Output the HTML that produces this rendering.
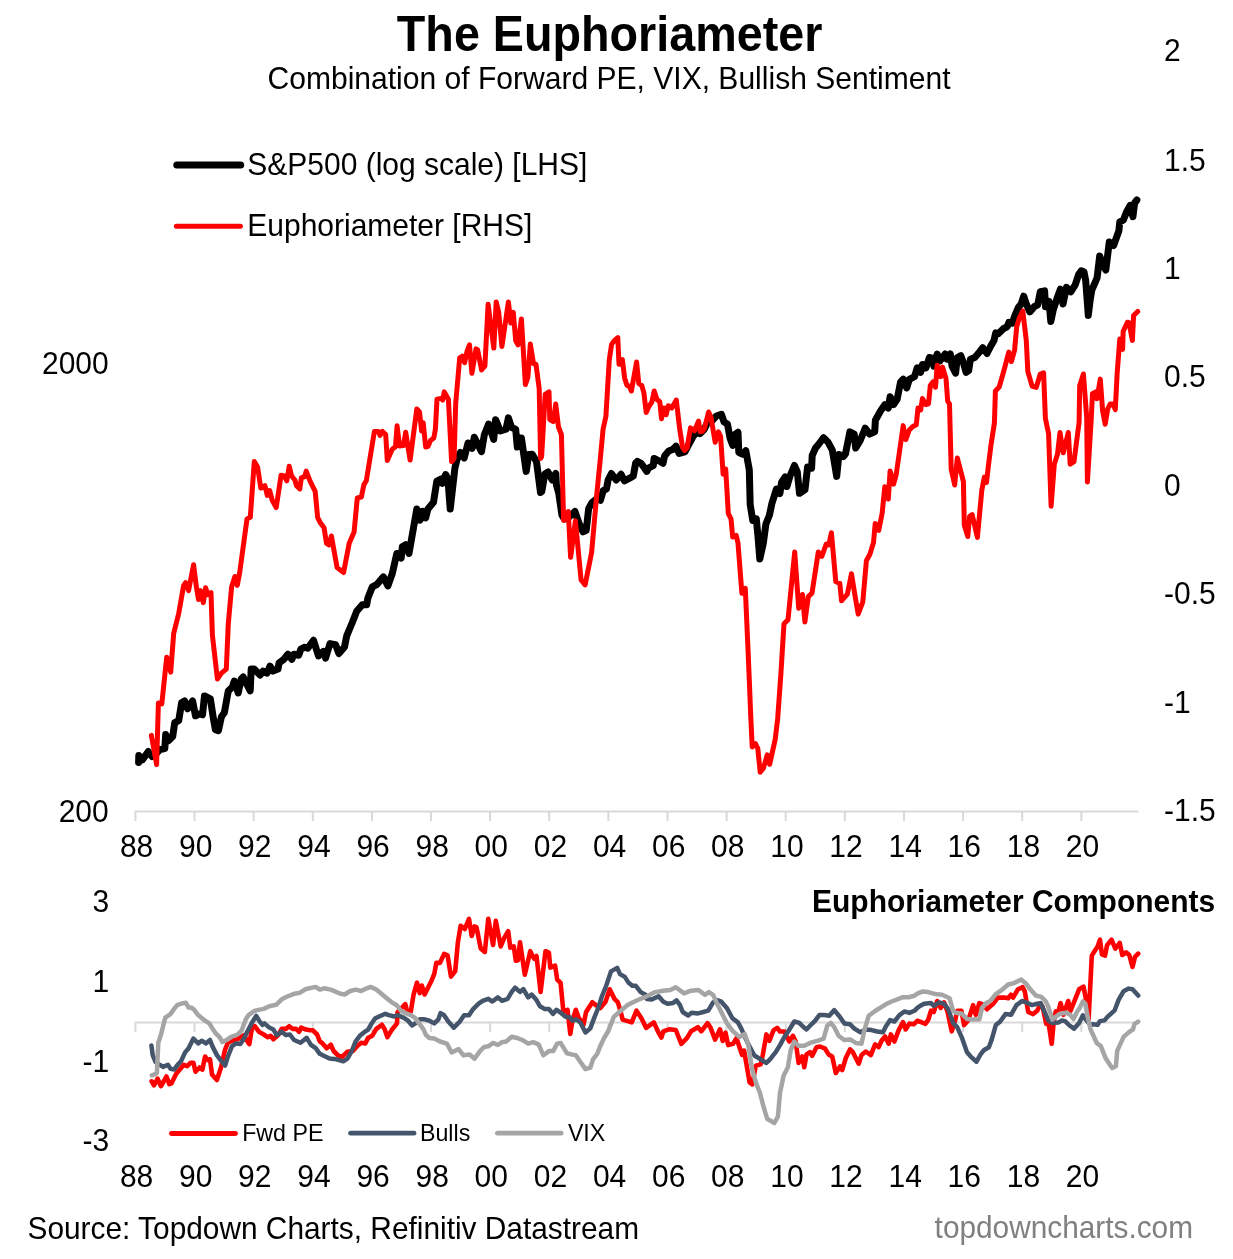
<!DOCTYPE html>
<html><head><meta charset="utf-8"><title>The Euphoriameter</title>
<style>
html,body{margin:0;padding:0;background:#fff;}
body{width:1233px;height:1259px;overflow:hidden;}
svg{display:block;font-family:'Liberation Sans', Arial, sans-serif;fill:#000;}
</style></head><body>
<svg width="1233" height="1259" viewBox="0 0 1233 1259">
<rect width="1233" height="1259" fill="#fff"/>
<text transform="translate(609.6 50.9) scale(1 1.055)" font-size="46.7" text-anchor="middle" font-weight="bold">The Euphoriameter</text>
<text transform="translate(609.0 88.5) scale(1 1.03)" font-size="30.05" text-anchor="middle">Combination of Forward PE, VIX, Bullish Sentiment</text>
<g stroke="#d9d9d9" stroke-width="2" fill="none">
<path d="M134.9 811.4 H1138.4"/>
<path d="M135.4 811.4 V821"/>
<path d="M194.5 811.4 V821"/>
<path d="M253.6 811.4 V821"/>
<path d="M312.8 811.4 V821"/>
<path d="M371.9 811.4 V821"/>
<path d="M431.0 811.4 V821"/>
<path d="M490.1 811.4 V821"/>
<path d="M549.2 811.4 V821"/>
<path d="M608.4 811.4 V821"/>
<path d="M667.5 811.4 V821"/>
<path d="M726.6 811.4 V821"/>
<path d="M785.7 811.4 V821"/>
<path d="M844.8 811.4 V821"/>
<path d="M904.0 811.4 V821"/>
<path d="M963.1 811.4 V821"/>
<path d="M1022.2 811.4 V821"/>
<path d="M1081.3 811.4 V821"/>
</g>
<text transform="translate(136.6 856.6) scale(1 1.04)" font-size="30" text-anchor="middle">88</text>
<text transform="translate(195.7 856.6) scale(1 1.04)" font-size="30" text-anchor="middle">90</text>
<text transform="translate(254.8 856.6) scale(1 1.04)" font-size="30" text-anchor="middle">92</text>
<text transform="translate(314.0 856.6) scale(1 1.04)" font-size="30" text-anchor="middle">94</text>
<text transform="translate(373.1 856.6) scale(1 1.04)" font-size="30" text-anchor="middle">96</text>
<text transform="translate(432.2 856.6) scale(1 1.04)" font-size="30" text-anchor="middle">98</text>
<text transform="translate(491.3 856.6) scale(1 1.04)" font-size="30" text-anchor="middle">00</text>
<text transform="translate(550.4 856.6) scale(1 1.04)" font-size="30" text-anchor="middle">02</text>
<text transform="translate(609.6 856.6) scale(1 1.04)" font-size="30" text-anchor="middle">04</text>
<text transform="translate(668.7 856.6) scale(1 1.04)" font-size="30" text-anchor="middle">06</text>
<text transform="translate(727.8 856.6) scale(1 1.04)" font-size="30" text-anchor="middle">08</text>
<text transform="translate(786.9 856.6) scale(1 1.04)" font-size="30" text-anchor="middle">10</text>
<text transform="translate(846.0 856.6) scale(1 1.04)" font-size="30" text-anchor="middle">12</text>
<text transform="translate(905.2 856.6) scale(1 1.04)" font-size="30" text-anchor="middle">14</text>
<text transform="translate(964.3 856.6) scale(1 1.04)" font-size="30" text-anchor="middle">16</text>
<text transform="translate(1023.4 856.6) scale(1 1.04)" font-size="30" text-anchor="middle">18</text>
<text transform="translate(1082.5 856.6) scale(1 1.04)" font-size="30" text-anchor="middle">20</text>
<text transform="translate(108.7 374.4) scale(1 1.04)" font-size="30" text-anchor="end">2000</text>
<text transform="translate(108.7 821.5) scale(1 1.04)" font-size="30" text-anchor="end">200</text>
<text transform="translate(1164.0 61.4) scale(1 1.04)" font-size="30">2</text>
<text transform="translate(1164.0 170.7) scale(1 1.04)" font-size="30">1.5</text>
<text transform="translate(1164.0 278.5) scale(1 1.04)" font-size="30">1</text>
<text transform="translate(1164.0 387.0) scale(1 1.04)" font-size="30">0.5</text>
<text transform="translate(1164.0 495.8) scale(1 1.04)" font-size="30">0</text>
<text transform="translate(1164.0 603.5) scale(1 1.04)" font-size="30">-0.5</text>
<text transform="translate(1164.0 712.9) scale(1 1.04)" font-size="30">-1</text>
<text transform="translate(1164.0 821.3) scale(1 1.04)" font-size="30">-1.5</text>
<path d="M176.8 164.9 H240.7" stroke="#000" stroke-width="7" stroke-linecap="round"/>
<path d="M176.4 226.3 H240.4" stroke="#f00" stroke-width="5" stroke-linecap="round"/>
<text transform="translate(247.3 175.0) scale(1 1.03)" font-size="30">S&amp;P500 (log scale) [LHS]</text>
<text transform="translate(247.3 236.0) scale(1 1.03)" font-size="30">Euphoriameter [RHS]</text>
<polyline points="138.6,762.5 138.8,755.5 142.5,759.8 148.3,751.5 152.0,756.5 156.0,754.0 160.0,749.5 164.8,748.5 165.7,734.6 168.7,740.6 172.7,736.6 174.7,722.7 178.7,720.7 181.6,702.8 184.6,700.9 187.6,708.8 192.6,700.9 195.5,715.8 199.5,713.8 202.5,714.8 204.5,695.9 210.4,698.9 213.4,718.7 215.4,729.7 218.4,730.7 221.4,716.8 224.3,712.8 228.3,690.9 232.3,687.0 234.3,681.0 238.2,692.9 241.2,679.0 243.2,677.0 246.2,683.0 250.2,690.9 251.2,669.1 254.1,669.1 260.1,675.0 263.1,671.1 267.0,673.1 270.0,666.1 273.0,671.1 278.0,669.1 279.0,663.1 283.9,659.2 287.9,654.2 291.9,659.2 293.9,654.2 298.8,655.2 300.8,649.2 304.8,647.2 307.8,648.2 313.5,640.3 318.5,656.0 323.4,651.4 325.6,658.1 330.0,643.6 335.6,644.7 338.9,653.6 344.5,647.0 346.7,635.8 352.3,622.5 356.7,611.3 362.3,604.7 366.7,604.7 367.9,598.0 372.3,586.9 376.7,584.6 383.4,576.9 387.9,585.8 392.3,573.5 396.8,553.5 401.2,558.0 402.3,546.8 405.7,544.6 409.0,553.5 416.8,509.0 420.1,520.1 422.4,511.2 425.7,517.9 427.9,509.0 433.5,502.3 436.8,481.2 441.3,479.0 442.4,483.4 445.7,474.5 447.9,479.0 450.2,509.0 454.9,468.2 456.8,460.1 460.4,452.5 464.2,458.0 468.0,443.0 472.2,448.2 474.3,437.3 481.5,451.6 484.3,435.0 488.6,424.0 493.7,439.4 495.6,419.7 500.3,431.0 506.0,429.2 508.4,417.9 511.6,427.6 515.7,429.2 517.3,447.1 519.8,438.1 521.4,438.1 526.2,471.4 528.7,454.4 532.2,454.3 536.5,461.6 540.5,492.5 541.8,491.5 544.9,474.0 548.1,472.0 552.2,480.0 555.8,473.5 556.4,484.9 558.7,493.0 561.9,514.9 564.3,519.0 567.5,518.5 574.9,511.5 578.9,523.0 583.0,531.9 586.2,530.3 588.7,508.4 591.9,502.7 596.8,498.7 600.4,500.3 603.3,490.6 606.5,488.9 608.1,480.0 611.4,473.5 616.2,480.0 621.1,474.3 624.3,480.8 629.2,478.4 633.3,476.0 635.7,463.0 637.3,461.4 641.1,463.3 646.8,471.4 648.4,468.1 653.3,465.7 654.1,458.4 659.0,460.8 663.0,463.3 664.6,456.0 668.7,451.1 672.7,449.5 676.0,446.2 679.2,453.5 684.9,451.9 689.0,444.2 693.3,436.0 696.5,432.6 700.0,433.7 704.0,429.5 707.6,422.7 711.7,421.1 716.3,416.0 721.4,414.3 724.0,421.8 727.5,424.2 730.1,438.4 732.7,445.4 734.5,434.9 738.0,432.3 738.8,452.4 742.3,454.2 745.8,450.7 749.3,469.9 750.2,504.8 752.8,520.5 756.3,518.8 758.0,536.3 759.8,559.0 763.3,543.3 765.9,524.0 769.4,515.3 772.0,503.1 776.4,489.1 779.9,493.5 781.6,482.1 785.1,476.9 786.9,486.5 790.0,476.0 794.4,465.5 797.3,472.0 799.5,493.3 805.0,489.5 807.6,467.0 811.6,468.2 812.2,455.5 815.5,448.0 818.5,444.5 823.6,437.7 828.0,442.1 832.3,450.1 836.7,476.4 838.9,454.5 843.3,456.7 845.5,453.8 849.9,431.9 854.2,434.1 855.7,448.0 860.1,440.7 865.2,428.2 869.6,434.1 874.7,431.9 875.4,420.2 880.2,411.5 884.8,404.6 888.3,408.1 890.1,396.8 893.6,404.6 897.1,399.4 900.6,381.9 903.2,379.3 906.7,388.0 909.3,379.3 914.5,376.7 917.2,367.9 920.7,372.3 922.4,364.5 925.9,367.9 929.4,357.5 932.9,358.3 933.8,366.2 937.2,354.0 939.9,361.0 945.1,354.0 946.9,359.2 950.3,354.0 952.1,366.2 955.6,373.2 957.3,357.5 960.8,355.7 963.4,362.7 966.1,372.3 968.7,370.6 970.4,359.2 974.8,357.5 979.5,352.0 982.6,347.7 987.0,353.5 990.5,346.5 994.0,340.5 995.7,332.9 998.3,333.7 1003.6,328.5 1007.1,326.8 1008.8,322.4 1012.3,323.3 1014.9,315.4 1018.4,307.5 1021.1,304.0 1023.7,296.2 1026.3,304.0 1029.8,311.9 1034.2,306.7 1037.7,304.9 1040.3,291.8 1044.6,290.9 1045.5,306.7 1049.0,301.4 1050.8,321.5 1053.4,309.3 1056.9,298.8 1060.4,289.2 1063.0,304.0 1066.5,287.4 1070.8,291.8 1075.2,284.8 1078.7,274.3 1081.3,270.8 1083.9,271.7 1085.7,280.5 1088.3,315.4 1090.1,300.5 1091.8,290.1 1097.1,277.8 1099.7,256.0 1103.2,265.6 1105.8,270.0 1109.3,242.0 1113.6,245.5 1118.9,230.7 1119.8,221.9 1123.3,220.2 1126.8,211.4 1130.2,205.3 1132.9,216.7 1134.6,203.0 1136.9,200.0" fill="none" stroke="#000" stroke-width="7" stroke-linejoin="round" stroke-linecap="round"/>
<polyline points="151.4,735.4 156.6,764.6 158.4,703.0 161.8,703.9 166.7,657.2 170.7,672.1 173.7,633.3 178.7,613.5 183.6,585.7 185.6,582.7 188.6,590.6 193.6,564.8 196.5,587.7 198.5,599.6 200.5,590.6 203.3,602.6 205.6,587.8 207.8,594.6 211.0,592.6 212.4,635.3 217.4,679.0 221.4,673.1 226.3,669.1 228.3,623.4 231.6,587.1 234.9,576.5 237.3,585.4 239.7,572.5 247.0,518.9 250.3,517.3 254.3,461.4 257.6,467.0 260.8,488.1 264.9,485.7 267.3,495.4 269.7,490.6 272.2,500.3 276.2,507.6 281.1,475.2 284.3,476.0 286.8,480.8 289.2,466.2 291.6,476.0 294.9,480.0 296.5,485.7 299.8,488.9 301.4,477.6 304.6,476.8 306.2,471.1 310.3,481.6 315.2,491.4 317.6,517.3 320.0,522.2 324.1,527.9 326.5,543.3 329.0,544.9 331.4,536.0 337.1,567.6 343.6,572.5 349.2,543.3 354.1,531.9 357.3,497.9 361.4,497.0 363.8,484.9 366.3,480.8 374.4,431.4 378.4,431.4 380.0,435.4 382.5,431.4 385.7,434.6 387.3,460.6 392.2,449.2 395.5,446.8 397.1,425.7 399.5,446.0 403.4,445.6 405.7,432.3 410.1,460.1 416.8,408.9 419.5,412.0 421.6,430.9 423.2,422.7 425.7,447.1 428.1,446.3 430.5,440.6 433.8,438.1 435.4,429.2 437.0,399.2 441.1,398.4 442.7,400.0 444.3,391.9 448.4,399.2 451.6,461.7 454.1,458.4 455.7,403.3 459.7,357.9 462.2,356.2 464.6,362.7 467.0,351.4 469.5,344.9 471.9,373.3 476.0,348.9 477.6,349.7 481.6,370.0 484.9,366.0 488.1,304.3 493.8,348.1 496.2,301.9 498.7,312.4 501.9,346.5 508.4,301.9 510.8,323.0 513.3,312.4 515.7,340.8 518.1,344.9 521.4,318.9 525.4,384.6 527.9,377.3 530.3,344.1 533.5,363.5 536.0,364.3 539.2,388.7 540.6,458.4 541.6,456.8 545.2,394.4 549.0,391.9 549.8,419.5 553.3,421.5 555.7,404.1 558.5,427.0 561.4,434.5 563.6,520.5 568.3,511.5 570.6,557.3 575.4,520.8 581.1,580.0 585.1,584.9 591.6,552.5 596.5,497.3 600.2,460.0 603.1,429.0 605.9,416.5 609.3,359.7 611.6,344.4 614.4,340.4 617.8,337.6 619.0,364.3 620.7,364.3 622.4,359.7 624.6,377.9 626.9,385.3 629.2,385.9 631.4,391.0 636.6,362.0 638.8,383.6 641.7,385.3 643.9,392.7 646.2,412.5 649.0,406.3 651.9,401.8 654.2,391.0 657.0,399.5 659.8,401.8 661.5,418.8 663.8,408.0 666.1,414.8 668.3,405.7 671.8,408.0 676.3,400.0 679.7,429.0 682.5,447.0 684.5,450.5 687.1,447.7 690.5,427.9 692.8,429.5 694.5,430.7 698.5,421.1 700.2,431.7 702.4,431.3 704.6,428.0 708.6,412.0 711.0,417.5 715.2,442.3 718.4,431.8 720.6,436.3 723.1,474.2 725.7,469.0 728.3,513.6 731.0,518.8 732.7,537.1 736.2,535.4 738.0,543.3 741.9,593.3 745.3,588.3 748.1,651.5 749.3,680.0 750.7,715.0 752.2,746.9 755.4,743.7 757.8,748.4 760.2,772.3 763.4,768.3 767.3,754.8 769.7,764.3 775.3,738.9 777.7,718.2 780.9,673.8 784.0,623.7 788.0,619.7 789.6,603.8 794.7,552.0 798.7,608.3 802.5,594.5 804.9,622.0 808.3,596.6 812.0,593.2 818.3,552.0 821.8,556.4 826.2,544.1 828.8,545.0 831.4,532.8 835.8,581.7 839.8,583.3 841.5,600.8 847.4,594.1 851.5,573.8 855.0,595.7 858.2,614.1 862.8,601.9 866.4,560.7 870.0,554.0 873.5,542.6 875.2,523.4 878.7,530.4 882.2,512.9 884.8,486.7 888.3,499.0 890.1,471.0 893.6,484.1 896.2,474.5 903.2,425.6 905.8,439.6 909.3,430.0 912.8,426.5 916.3,424.7 918.0,408.1 920.7,409.9 922.4,398.5 925.9,404.6 928.5,403.8 930.3,385.4 932.9,381.9 935.5,387.2 937.2,365.3 940.7,376.7 942.5,367.1 946.0,378.4 947.7,401.1 949.5,403.8 951.2,469.3 954.7,485.0 957.3,457.9 963.4,481.5 964.3,525.2 967.8,536.5 969.6,516.4 972.2,514.7 977.4,537.4 981.8,490.2 984.4,477.1 986.5,482.5 988.2,467.5 991.0,445.0 994.4,423.0 995.4,391.0 999.2,387.0 1003.8,371.0 1008.8,352.1 1011.4,361.5 1014.6,350.0 1016.7,326.8 1019.3,318.0 1022.8,311.0 1026.3,340.7 1027.8,371.4 1032.1,386.1 1036.2,387.5 1040.3,374.0 1043.6,372.8 1045.4,418.5 1048.6,433.7 1051.1,506.2 1054.3,464.2 1057.5,454.1 1060.0,432.5 1063.2,452.8 1068.3,432.5 1070.2,464.2 1074.0,461.7 1079.1,422.3 1079.7,385.4 1083.4,374.0 1086.7,417.2 1087.4,482.0 1091.2,419.7 1092.5,393.7 1095.6,391.8 1096.9,398.8 1100.3,379.1 1102.6,410.8 1105.2,424.2 1107.7,408.9 1110.3,403.9 1112.8,403.9 1115.3,409.6 1117.2,372.7 1119.8,339.0 1122.6,349.4 1123.2,331.2 1127.4,322.2 1129.0,322.7 1132.4,340.5 1133.6,315.5 1137.7,311.4" fill="none" stroke="#f00" stroke-width="5" stroke-linejoin="round" stroke-linecap="round"/>
<text transform="translate(1215.2 911.8) scale(1 1.03)" font-size="30" text-anchor="end" font-weight="bold">Euphoriameter Components</text>
<g stroke="#d9d9d9" stroke-width="2" fill="none">
<path d="M134.9 1022.5 H1136.5"/>
<path d="M135.4 1022.5 V1032"/>
<path d="M194.5 1022.5 V1032"/>
<path d="M253.6 1022.5 V1032"/>
<path d="M312.8 1022.5 V1032"/>
<path d="M371.9 1022.5 V1032"/>
<path d="M431.0 1022.5 V1032"/>
<path d="M490.1 1022.5 V1032"/>
<path d="M549.2 1022.5 V1032"/>
<path d="M608.4 1022.5 V1032"/>
<path d="M667.5 1022.5 V1032"/>
<path d="M726.6 1022.5 V1032"/>
<path d="M785.7 1022.5 V1032"/>
<path d="M844.8 1022.5 V1032"/>
<path d="M904.0 1022.5 V1032"/>
<path d="M963.1 1022.5 V1032"/>
<path d="M1022.2 1022.5 V1032"/>
<path d="M1081.3 1022.5 V1032"/>
</g>
<text transform="translate(109.2 912.3) scale(1 1.04)" font-size="30" text-anchor="end">3</text>
<text transform="translate(109.2 992.4) scale(1 1.04)" font-size="30" text-anchor="end">1</text>
<text transform="translate(109.2 1072.1) scale(1 1.04)" font-size="30" text-anchor="end">-1</text>
<text transform="translate(109.2 1150.6) scale(1 1.04)" font-size="30" text-anchor="end">-3</text>
<text transform="translate(136.6 1186.7) scale(1 1.04)" font-size="30" text-anchor="middle">88</text>
<text transform="translate(195.7 1186.7) scale(1 1.04)" font-size="30" text-anchor="middle">90</text>
<text transform="translate(254.8 1186.7) scale(1 1.04)" font-size="30" text-anchor="middle">92</text>
<text transform="translate(314.0 1186.7) scale(1 1.04)" font-size="30" text-anchor="middle">94</text>
<text transform="translate(373.1 1186.7) scale(1 1.04)" font-size="30" text-anchor="middle">96</text>
<text transform="translate(432.2 1186.7) scale(1 1.04)" font-size="30" text-anchor="middle">98</text>
<text transform="translate(491.3 1186.7) scale(1 1.04)" font-size="30" text-anchor="middle">00</text>
<text transform="translate(550.4 1186.7) scale(1 1.04)" font-size="30" text-anchor="middle">02</text>
<text transform="translate(609.6 1186.7) scale(1 1.04)" font-size="30" text-anchor="middle">04</text>
<text transform="translate(668.7 1186.7) scale(1 1.04)" font-size="30" text-anchor="middle">06</text>
<text transform="translate(727.8 1186.7) scale(1 1.04)" font-size="30" text-anchor="middle">08</text>
<text transform="translate(786.9 1186.7) scale(1 1.04)" font-size="30" text-anchor="middle">10</text>
<text transform="translate(846.0 1186.7) scale(1 1.04)" font-size="30" text-anchor="middle">12</text>
<text transform="translate(905.2 1186.7) scale(1 1.04)" font-size="30" text-anchor="middle">14</text>
<text transform="translate(964.3 1186.7) scale(1 1.04)" font-size="30" text-anchor="middle">16</text>
<text transform="translate(1023.4 1186.7) scale(1 1.04)" font-size="30" text-anchor="middle">18</text>
<text transform="translate(1082.5 1186.7) scale(1 1.04)" font-size="30" text-anchor="middle">20</text>
<polyline points="151.6,1081.3 154.0,1085.3 157.6,1078.6 161.0,1086.2 166.5,1076.5 169.3,1084.1 171.4,1083.4 176.2,1073.7 183.8,1064.8 187.2,1066.2 190.7,1062.7 193.4,1062.7 195.5,1071.7 199.6,1067.5 202.4,1069.6 205.1,1056.5 207.2,1060.0 210.0,1059.3 212.0,1074.4 216.9,1080.0 221.0,1067.5 225.1,1049.6 227.9,1042.7 232.0,1040.7 237.5,1039.3 240.3,1037.2 244.4,1035.1 246.5,1040.0 249.3,1044.1 252.0,1027.6 254.8,1026.2 258.9,1031.7 263.7,1034.5 267.9,1037.2 270.6,1035.8 273.4,1039.3 278.2,1035.1 281.7,1028.9 285.8,1028.9 289.2,1026.2 292.7,1028.9 296.1,1028.9 299.1,1031.7 301.2,1027.6 306.0,1029.6 310.2,1030.3 312.9,1030.3 317.1,1034.5 319.8,1041.3 322.6,1043.4 326.7,1048.2 330.8,1044.8 333.6,1051.0 337.7,1055.1 341.9,1057.2 347.4,1051.7 352.9,1051.0 357.0,1046.2 361.2,1042.7 365.3,1043.4 368.1,1037.9 372.2,1035.8 376.3,1028.9 381.9,1024.8 384.6,1028.9 387.4,1037.2 391.5,1030.3 397.0,1023.4 397.5,1012.4 405.3,1004.1 407.4,1012.4 410.8,1011.7 413.6,994.5 417.0,982.7 419.8,993.1 421.8,985.5 424.6,994.5 431.5,980.7 434.3,973.8 436.3,962.8 440.0,962.9 444.1,953.9 447.6,955.3 451.0,976.7 455.2,971.2 457.9,942.2 460.7,925.7 464.8,929.1 469.0,918.8 471.7,936.0 474.5,926.4 476.5,927.1 480.7,948.4 484.8,951.9 488.3,918.8 493.1,945.0 495.8,920.9 500.7,946.4 504.1,938.1 508.2,931.2 510.3,947.7 513.8,946.4 515.8,960.8 517.9,960.2 520.0,942.2 524.8,974.6 530.3,951.2 532.4,956.0 534.4,958.8 536.5,956.0 540.6,991.9 545.5,951.2 548.9,952.6 550.3,967.7 555.1,965.7 557.2,979.5 560.6,982.9 563.4,1011.9 567.5,1009.8 570.3,1033.9 572.4,1020.8 575.8,1009.8 578.6,1017.4 583.4,1025.0 586.1,1011.9 592.3,1002.2 596.5,1005.6 600.3,1008.0 605.5,1001.7 609.7,989.3 614.5,998.9 617.9,1002.4 620.7,1012.0 622.7,1019.6 631.7,1022.4 636.5,1010.7 641.4,1018.2 646.2,1027.9 653.8,1022.4 657.9,1031.3 661.4,1037.6 663.4,1031.3 668.9,1029.3 675.8,1030.0 681.3,1043.8 686.9,1038.2 691.0,1031.3 697.9,1027.2 701.3,1031.3 707.5,1023.1 710.3,1027.2 715.1,1039.6 720.0,1029.3 722.7,1041.0 725.5,1032.7 728.2,1045.1 733.0,1043.8 736.5,1038.2 742.0,1054.8 744.1,1050.6 749.6,1082.4 752.3,1084.4 755.8,1065.8 760.6,1064.4 762.9,1054.4 766.4,1034.4 769.3,1040.8 773.6,1030.1 777.2,1027.9 780.0,1031.5 784.3,1031.5 789.3,1041.5 792.9,1035.8 795.7,1041.5 798.6,1063.0 802.2,1056.5 804.3,1067.2 806.5,1054.4 810.0,1052.2 812.2,1055.8 816.5,1047.2 820.0,1046.5 825.1,1048.7 828.6,1054.4 832.2,1056.5 835.8,1073.0 840.1,1066.5 842.2,1070.1 845.8,1058.0 850.1,1049.4 852.9,1052.2 858.7,1063.7 861.5,1055.1 865.8,1051.5 870.8,1055.1 875.1,1044.4 878.7,1047.2 881.5,1040.8 885.1,1036.5 888.7,1043.7 890.8,1034.4 894.4,1041.5 898.7,1030.1 903.0,1022.2 905.8,1029.4 909.4,1023.6 913.7,1024.3 917.3,1020.8 920.0,1021.7 925.5,1023.8 928.3,1019.6 931.0,1010.7 933.8,1012.0 937.2,1001.0 940.7,1007.9 944.1,1002.4 947.6,1012.0 951.7,1031.3 955.2,1020.3 957.2,1010.7 961.4,1010.7 964.1,1025.1 968.3,1020.3 973.1,1005.1 975.8,1014.8 979.3,1003.1 984.1,1005.1 986.9,1009.3 993.1,1003.8 997.9,997.6 1004.1,997.6 1008.2,998.3 1011.0,994.8 1013.1,997.6 1017.9,989.3 1022.7,987.2 1024.8,991.4 1028.2,1012.0 1033.1,1014.1 1037.2,1010.7 1040.6,1003.8 1042.7,1007.2 1046.2,1023.8 1048.9,1025.1 1051.7,1043.8 1053.7,1021.7 1055.8,1011.4 1057.9,1013.4 1060.6,1003.1 1063.4,1014.8 1068.2,1001.0 1070.5,1011.0 1079.1,989.3 1083.5,986.7 1085.4,996.3 1088.6,1019.1 1091.8,955.6 1095.0,950.5 1097.5,946.7 1100.0,939.7 1101.9,954.3 1105.1,955.6 1107.0,945.4 1111.5,939.7 1115.3,948.6 1119.7,942.9 1122.3,955.0 1126.1,952.4 1129.3,955.0 1132.5,967.0 1135.0,956.9 1138.2,953.7" fill="none" stroke="#f00" stroke-width="4.6" stroke-linejoin="round" stroke-linecap="round"/>
<polyline points="151.4,1045.5 152.7,1055.1 155.5,1062.0 159.6,1064.8 163.1,1066.9 167.9,1064.8 170.7,1068.9 174.1,1069.6 177.6,1064.8 181.0,1061.3 185.1,1052.4 188.6,1048.2 193.4,1038.6 198.2,1043.4 201.7,1040.7 205.8,1043.4 210.0,1040.0 212.7,1046.9 216.9,1055.1 221.0,1060.6 225.1,1065.5 227.9,1056.5 232.0,1046.2 236.2,1043.4 240.3,1044.1 243.1,1040.0 247.2,1031.7 252.0,1022.7 256.2,1015.8 259.6,1021.4 262.4,1024.8 264.4,1023.4 269.3,1027.6 273.4,1029.6 276.8,1035.1 281.7,1031.7 285.8,1035.1 289.9,1034.5 294.1,1040.0 300.5,1042.7 306.7,1037.9 310.9,1044.8 315.7,1048.2 319.8,1053.8 325.3,1056.5 329.5,1058.6 336.4,1059.3 343.3,1061.3 347.4,1058.6 351.5,1051.7 355.7,1041.3 359.8,1035.8 363.9,1032.4 368.1,1029.6 370.8,1024.8 375.0,1018.6 379.1,1016.5 385.3,1013.8 388.8,1015.1 394.3,1016.5 397.7,1015.1 403.9,1017.9 408.1,1020.7 412.2,1025.5 416.3,1022.7 419.8,1019.3 424.6,1019.3 429.4,1020.7 434.3,1023.4 438.4,1019.3 440.5,1013.1 443.9,1015.0 448.3,1021.5 453.8,1027.7 459.3,1022.2 464.1,1015.3 469.0,1015.3 473.1,1009.1 478.6,1003.6 482.7,1000.8 488.3,998.8 492.4,1001.5 497.9,997.4 502.0,1000.8 507.6,998.8 511.7,991.9 515.1,987.7 520.0,991.9 523.4,989.1 528.2,997.4 531.7,994.6 536.5,1000.1 540.0,1006.3 544.8,1009.1 548.9,1009.1 553.1,1013.9 556.5,1009.8 561.3,1013.2 565.5,1016.7 570.3,1017.4 572.4,1020.8 576.5,1019.4 580.6,1022.9 585.5,1032.5 590.3,1028.4 594.4,1017.4 598.6,1007.0 602.0,996.0 606.2,985.8 611.0,971.4 617.2,967.9 620.0,974.1 624.8,976.9 628.3,982.4 632.4,985.8 635.8,985.8 640.7,992.1 645.5,994.8 646.9,998.9 651.7,999.6 658.6,996.2 663.4,1001.7 667.6,1003.8 673.1,1003.1 676.5,1000.3 680.0,1005.1 682.7,1012.0 688.2,1015.5 691.7,1012.7 697.9,1013.4 703.4,1012.0 708.2,1010.7 713.1,1002.4 717.9,1000.3 721.3,1001.7 726.8,1007.9 732.4,1018.2 737.9,1022.4 741.3,1028.6 745.5,1038.2 750.3,1047.9 754.4,1055.5 759.9,1058.9 766.4,1063.0 770.0,1059.4 775.7,1052.2 780.0,1045.1 784.3,1037.2 788.6,1030.8 794.3,1021.5 799.3,1022.9 802.9,1026.5 806.5,1029.4 810.0,1025.8 815.0,1020.8 819.3,1015.1 824.3,1015.1 829.3,1015.8 834.3,1010.1 840.1,1017.2 844.4,1023.6 850.1,1024.3 854.4,1028.6 860.1,1032.2 865.8,1029.4 871.5,1030.1 877.2,1031.5 883.0,1032.2 885.8,1026.5 890.1,1020.1 894.4,1021.5 899.4,1015.1 904.4,1011.5 909.4,1012.9 914.4,1010.8 917.3,1007.9 920.0,1006.0 924.1,1003.8 931.0,1003.1 933.8,1005.8 939.3,1002.4 944.1,1003.8 948.3,1009.3 953.1,1023.1 957.2,1027.2 962.1,1038.2 966.9,1052.0 971.0,1056.9 976.5,1061.7 980.7,1054.1 984.1,1050.0 988.9,1047.2 991.7,1039.6 995.8,1025.1 1000.0,1021.7 1005.5,1014.1 1011.0,1014.8 1016.5,1005.1 1022.0,1001.0 1026.2,1002.4 1031.7,1005.1 1037.2,1003.8 1040.6,1003.1 1044.1,1010.7 1048.2,1020.3 1052.4,1023.1 1058.6,1022.4 1062.0,1020.5 1065.1,1021.1 1069.5,1025.5 1074.0,1028.7 1079.1,1023.0 1082.9,1015.3 1085.4,1019.1 1090.5,1024.9 1093.0,1024.2 1097.5,1024.9 1100.0,1021.1 1104.5,1020.4 1107.7,1016.6 1114.7,1010.3 1118.5,1000.1 1123.6,991.2 1128.6,988.6 1132.5,989.3 1138.2,995.6" fill="none" stroke="#44546a" stroke-width="4.5" stroke-linejoin="round" stroke-linecap="round"/>
<polyline points="151.8,1075.3 154.5,1074.4 156.9,1073.1 158.3,1042.7 161.0,1034.5 165.2,1017.9 167.9,1015.8 170.7,1013.8 174.1,1008.9 177.6,1004.8 182.4,1003.4 185.8,1002.7 188.6,1007.6 191.4,1007.6 194.1,1009.6 197.6,1014.5 201.7,1017.9 205.1,1020.7 209.3,1023.4 212.7,1028.9 215.5,1033.1 219.6,1037.2 222.4,1042.0 226.5,1040.0 232.0,1036.5 237.5,1034.5 241.7,1030.3 245.8,1019.3 248.6,1015.1 254.1,1011.0 259.6,1009.6 263.7,1008.9 269.3,1006.2 276.1,1004.8 281.7,999.3 287.2,996.5 294.1,993.8 299.1,993.1 306.0,989.0 315.7,986.9 319.8,989.6 324.0,988.3 330.8,989.6 340.5,993.8 344.6,994.5 350.2,991.0 355.7,989.6 361.2,991.0 366.7,988.3 370.8,986.9 376.3,989.6 384.6,996.5 391.5,1002.1 397.0,1005.5 401.2,1011.0 405.3,1013.1 410.8,1015.1 415.0,1017.9 419.1,1023.4 423.2,1028.9 426.0,1035.1 429.4,1037.9 434.3,1038.6 440.0,1041.5 446.9,1043.6 451.7,1052.5 458.6,1049.1 463.4,1055.3 469.6,1054.6 474.5,1058.7 480.0,1051.1 484.1,1047.0 488.3,1046.3 493.1,1042.9 497.9,1045.0 502.0,1042.2 506.2,1041.5 511.7,1036.7 517.2,1038.0 522.7,1040.1 528.2,1043.6 533.1,1042.2 538.6,1044.3 543.4,1055.3 548.9,1051.1 553.1,1051.1 557.2,1043.6 560.6,1042.9 566.8,1053.2 572.4,1054.6 575.8,1055.3 580.6,1062.2 585.5,1069.1 590.3,1067.7 593.0,1059.4 597.2,1053.9 600.3,1046.0 604.1,1038.0 608.3,1031.0 613.8,1016.9 619.3,1012.0 627.6,1005.1 637.2,1000.3 646.9,996.2 655.2,992.1 663.4,990.7 670.3,990.0 675.8,987.2 684.1,993.4 691.0,990.7 698.6,990.0 704.8,994.8 708.9,992.1 713.1,994.8 716.5,1002.4 721.3,1012.0 726.8,1023.1 732.4,1030.7 739.3,1036.9 744.8,1034.1 748.2,1044.4 751.7,1067.2 755.8,1082.4 760.0,1093.0 762.9,1104.4 767.1,1118.7 774.3,1123.0 777.9,1116.6 780.0,1093.0 783.6,1075.8 787.9,1067.2 790.7,1050.1 794.3,1041.5 798.6,1045.8 804.3,1045.8 810.0,1042.9 817.2,1040.8 823.6,1038.6 827.2,1025.8 830.8,1022.9 834.3,1027.2 838.6,1035.8 844.4,1040.1 850.1,1039.4 855.8,1042.9 861.5,1043.7 864.4,1030.1 868.7,1015.8 874.4,1011.5 880.1,1007.9 885.8,1004.3 891.5,1001.5 897.3,999.3 903.0,997.2 908.7,997.2 914.4,995.8 917.3,993.6 922.8,991.4 928.3,992.1 935.2,994.1 942.1,994.8 949.6,998.3 953.1,1010.7 955.8,1012.7 961.4,1013.4 966.9,1018.9 972.4,1019.6 979.3,1019.6 982.0,1007.9 986.2,1003.1 990.3,1001.0 995.8,994.1 1002.7,989.3 1008.2,984.5 1013.8,983.1 1021.3,979.6 1026.2,983.8 1030.3,989.3 1035.8,995.5 1041.3,996.9 1045.5,1001.0 1048.2,1006.5 1052.4,1019.6 1056.5,1016.2 1060.6,1013.4 1066.1,1012.7 1070.3,1014.8 1073.5,1019.0 1077.2,1011.4 1079.1,1009.0 1082.9,1001.4 1085.4,1003.9 1087.3,1015.3 1090.5,1029.3 1096.9,1043.3 1100.7,1045.8 1105.8,1058.6 1112.1,1068.1 1115.9,1066.2 1117.2,1050.9 1123.6,1036.9 1129.3,1031.9 1133.1,1029.3 1134.4,1024.2 1138.2,1021.7" fill="none" stroke="#a5a5a5" stroke-width="4.5" stroke-linejoin="round" stroke-linecap="round"/>
<path d="M171.4 1133.5 H235.5" stroke="#f00" stroke-width="4.8" stroke-linecap="round"/>
<text transform="translate(242.2 1141.3) scale(1 1.03)" font-size="23.2">Fwd PE</text>
<path d="M350.6 1133.2 H414" stroke="#44546a" stroke-width="4.8" stroke-linecap="round"/>
<text transform="translate(420.0 1141.3) scale(1 1.03)" font-size="23.2">Bulls</text>
<path d="M497.4 1133.2 H561.2" stroke="#a5a5a5" stroke-width="4.8" stroke-linecap="round"/>
<text transform="translate(567.9 1141.3) scale(1 1.03)" font-size="23.2">VIX</text>
<text transform="translate(27.5 1238.8) scale(1 1.03)" font-size="29.85">Source: Topdown Charts, Refinitiv Datastream</text>
<text transform="translate(1193.0 1238.2) scale(1 1.03)" font-size="29.8" text-anchor="end" fill="#808080">topdowncharts.com</text>
</svg>
</body></html>
